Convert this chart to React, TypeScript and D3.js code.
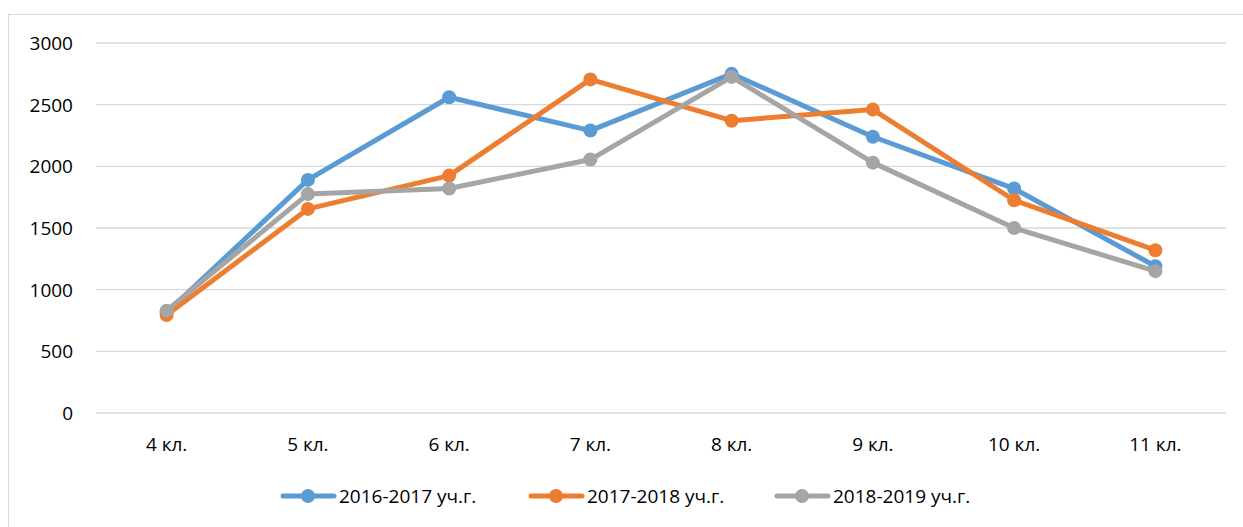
import React, { useRef, useEffect } from 'react';
import * as d3 from 'd3';

// chart data
const classes = ['4 кл.', '5 кл.', '6 кл.', '7 кл.', '8 кл.', '9 кл.', '10 кл.', '11 кл.'];
const y2016 = [815, 1890, 2560, 2290, 2750, 2240, 1820, 1190];
const y2017 = [795, 1655, 1925, 2705, 2370, 2460, 1725, 1320];
const y2018 = [830, 1775, 1820, 2055, 2725, 2030, 1500, 1150];
const yTicks = [0, 500, 1000, 1500, 2000, 2500, 3000];
const seriesNames = ['2016-2017 уч.г.', '2017-2018 уч.г.', '2018-2019 уч.г.'];
const seriesColors = ['#5b9bd5', '#ed7d31', '#a5a5a5'];

const W = 1243;
const H = 527;

const App = () => {
  const svgRef = useRef<SVGSVGElement>(null);

  useEffect(() => {
    const svg = d3.select(svgRef.current);
    svg.selectAll('*').remove();

    const font = 'Open Sans, Noto Sans, sans-serif';
    const fontSize = '19px';
    const left = 96, right = 1226, top = 43, bottom = 413;

    // chart area border
    svg.append('rect')
      .attr('x', 8.5).attr('y', 14.5)
      .attr('width', W + 10).attr('height', H + 10)
      .attr('fill', 'white')
      .attr('stroke', '#d9d9d9');

    const x = d3.scaleBand().domain(classes).range([left, right]);
    const y = d3.scaleLinear().domain([0, 3000]).range([bottom, top]);

    // gridlines
    svg.append('g').selectAll('line')
      .data(yTicks)
      .join('line')
      .attr('x1', left).attr('x2', right)
      .attr('y1', d => y(d)).attr('y2', d => y(d))
      .attr('stroke', '#d9d9d9')
      .attr('stroke-width', 1.3);

    // y labels
    svg.append('g').selectAll('text')
      .data(yTicks)
      .join('text')
      .attr('x', 73)
      .attr('y', d => y(d) + 7)
      .attr('text-anchor', 'end')
      .style('font-family', font)
      .style('font-size', fontSize)
      .attr('fill', '#000')
      .text(d => d);

    // x labels
    svg.append('g').selectAll('text')
      .data(classes)
      .join('text')
      .attr('x', d => x(d)! + x.bandwidth() / 2)
      .attr('y', 451)
      .attr('text-anchor', 'middle')
      .style('font-family', font)
      .style('font-size', fontSize)
      .attr('fill', '#000')
      .text(d => d);

    const series = [y2016, y2017, y2018];
    const cx = (i: number) => x(classes[i])! + x.bandwidth() / 2;

    const line = d3.line<number>()
      .x((_, i) => cx(i))
      .y(d => y(d));

    series.forEach((vals, s) => {
      const g = svg.append('g');
      g.append('path')
        .datum(vals)
        .attr('fill', 'none')
        .attr('stroke', seriesColors[s])
        .attr('stroke-width', 5)
        .attr('stroke-linejoin', 'round')
        .attr('d', line);
      g.selectAll('circle')
        .data(vals)
        .join('circle')
        .attr('cx', (_, i) => cx(i))
        .attr('cy', d => y(d))
        .attr('r', 7)
        .attr('fill', seriesColors[s]);
    });

    // legend
    const legendX = [283, 531, 777];
    const legend = svg.append('g');
    seriesNames.forEach((name, s) => {
      const lx = legendX[s];
      legend.append('line')
        .attr('x1', lx).attr('x2', lx + 51)
        .attr('y1', 496).attr('y2', 496)
        .attr('stroke', seriesColors[s])
        .attr('stroke-width', 5)
        .attr('stroke-linecap', 'round');
      legend.append('circle')
        .attr('cx', lx + 25).attr('cy', 496)
        .attr('r', 7)
        .attr('fill', seriesColors[s]);
      legend.append('text')
        .attr('x', lx + 56).attr('y', 503)
        .style('font-family', font)
        .style('font-size', fontSize)
        .attr('fill', '#000')
        .text(name);
    });
  }, []);

  return (
    <div style={{ position: 'absolute', left: 0, top: 0 }}>
      <svg ref={svgRef} width={W} height={H} style={{ display: 'block' }}></svg>
    </div>
  );
};

export default App;
